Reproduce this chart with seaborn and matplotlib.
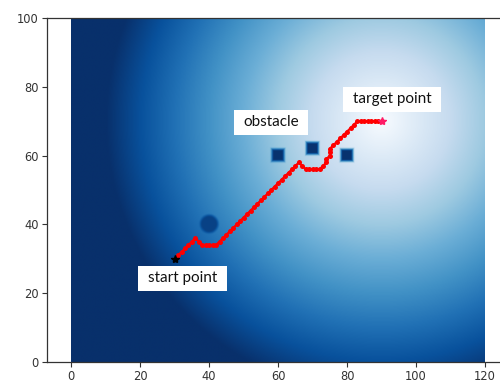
import numpy as np
import matplotlib
matplotlib.use("Agg")
import matplotlib.pyplot as plt
from matplotlib.path import Path
import seaborn as sns

# Planned path (grid steps) from the start point to the target point
path_x = [30, 31, 32, 33, 34, 35, 36, 37, 38, 39, 40, 41, 42,
          43, 44, 45, 46, 47, 48, 49, 50, 51, 52, 53, 54, 55, 56, 57, 58, 59,
          60, 61, 62, 63, 64, 65, 66,
          67, 68, 69, 70, 71, 72, 73, 74, 74, 75, 75, 75, 76,
          77, 78, 79, 80, 81, 82, 83,
          84, 85, 86, 87, 88, 89, 90]
path_y = [30, 31, 32, 33, 34, 35, 36, 35, 34, 34, 34, 34, 34,
          35, 36, 37, 38, 39, 40, 41, 42, 43, 44, 45, 46, 47, 48, 49, 50, 51,
          52, 53, 54, 55, 56, 57, 58,
          57, 56, 56, 56, 56, 56, 57, 58, 59, 60, 61, 62, 63,
          64, 65, 66, 67, 68, 69, 70,
          70, 70, 70, 70, 70, 70, 70]

start = (30, 30)
target = (90, 70)

# Obstacles: centre x, centre y, core half-size, potential level, shape
obs_x = [40, 60, 70, 80]
obs_y = [40, 60, 62, 60]
obs_size = [2.0, 1.2, 1.2, 1.2]
obs_level = [0.93, 0.99, 0.99, 0.99]
obs_round = [True, False, False, False]

labels = ["start point", "obstacle", "target point"]
label_x = [32.3, 57.9, 93.0]
label_y = [24.4, 69.7, 76.4]

x_ticks = [0, 20, 40, 60, 80, 100, 120]
y_ticks = [0, 20, 40, 60, 80, 100]

# --- potential field -------------------------------------------------------
gx = np.linspace(0, 120, 481)
gy = np.linspace(0, 100, 401)
X, Y = np.meshgrid(gx, gy)
field = np.clip(np.hypot(X - target[0], Y - target[1]) / 80.0, 0, 1)

halo = 1.2
for ox, oy, r, lvl, rnd in zip(obs_x, obs_y, obs_size, obs_level, obs_round):
    if rnd:
        dist = np.hypot(X - ox, Y - oy)
    else:
        dist = np.maximum(np.abs(X - ox), np.abs(Y - oy))
    w = np.clip(1 - (dist - r) / halo, 0, 1)
    w = w * w * (3 - 2 * w)
    field = field * (1 - w) + lvl * w

sns.set_theme(style="ticks")
plt.rcParams["font.family"] = ["DejaVu Sans"]

fig = plt.figure(figsize=(5.0, 3.83), dpi=100)
ax = fig.add_axes([47 / 500, 21 / 383, 134 * 3.45 / 500, 344 / 383])

ax.imshow(field, cmap="Blues", vmin=0, vmax=1, origin="lower",
          extent=(0, 120, 0, 100), aspect="auto", interpolation="bilinear",
          zorder=1)

sns.lineplot(x=path_x, y=path_y, sort=False, estimator=None, ax=ax,
             color="#ff0000", linewidth=1.6, marker="o", markersize=3.6,
             markeredgewidth=0, zorder=3)
ax.plot([start[0]], [start[1]], marker="*", color="black", markersize=6,
        linestyle="none", zorder=4)
ax.plot([target[0]], [target[1]], marker="*", color="#ff1a66", markersize=6,
        linestyle="none", zorder=4)


def label_box(x0, y0, width, height, mutation_size):
    px = 0.62 * mutation_size
    py = 0.36 * mutation_size
    return Path([(x0 - px, y0 - py), (x0 + width + px, y0 - py),
                 (x0 + width + px, y0 + height + py), (x0 - px, y0 + height + py),
                 (x0 - px, y0 - py)], closed=True)


for txt, lx, ly in zip(labels, label_x, label_y):
    ax.text(lx, ly, txt, ha="center", va="center", fontsize=11,
            family=["Lato", "DejaVu Sans"], color="#111111", zorder=5,
            bbox=dict(boxstyle=label_box, facecolor="white", edgecolor="none"))

ax.set_xlim(-7, 127)
ax.set_ylim(0, 100)
ax.set_xticks(x_ticks)
ax.set_yticks(y_ticks)
ax.tick_params(labelsize=8.3, length=3.5, width=0.8, pad=2.5, colors="#333333")
for sp in ax.spines.values():
    sp.set_color("#333333")
    sp.set_linewidth(0.9)
ax.set_xlabel("")
ax.set_ylabel("")

fig.savefig("out.png", dpi=100)
